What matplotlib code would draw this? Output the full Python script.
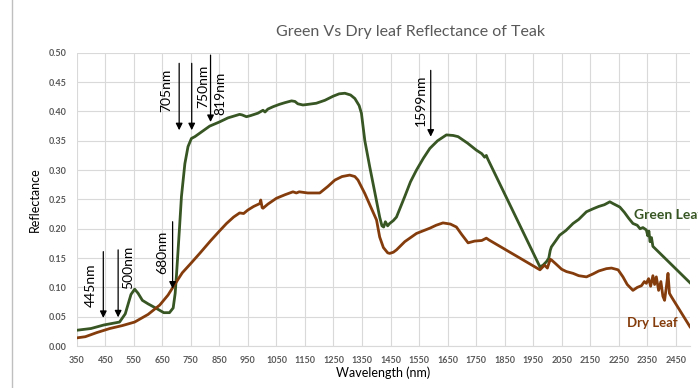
import matplotlib.pyplot as plt
from matplotlib.lines import Line2D

plt.rcParams['font.family'] = ['Lato', 'DejaVu Sans']

# Reflectance spectra (wavelength in nm, reflectance fraction)
green_nm = [350, 400, 445, 500, 520, 540, 553, 565, 580, 600, 630, 655, 675, 688,
            695, 700, 710, 717, 729, 740, 752, 764, 790, 816, 850, 880, 921, 930,
            945, 960, 985, 1003, 1010, 1020, 1038, 1060, 1080, 1103, 1115, 1125,
            1143, 1160, 1190, 1220, 1249, 1270, 1290, 1310, 1325, 1340, 1348, 1360,
            1377, 1395, 1412, 1420, 1426, 1432, 1440, 1447, 1460, 1471, 1500, 1520,
            1541, 1565, 1588, 1615, 1646, 1670, 1687, 1720, 1751, 1770, 1780, 1786,
            1790, 1974, 1985, 1997, 2005, 2010, 2014, 2030, 2043, 2065, 2090, 2110,
            2137, 2160, 2180, 2200, 2219, 2230, 2254, 2270, 2285, 2300, 2315, 2325,
            2335, 2347, 2352, 2356, 2360, 2365, 2370, 2500]
green_r = [0.027, 0.030, 0.036, 0.041, 0.055, 0.088, 0.097, 0.090, 0.078, 0.072,
           0.064, 0.057, 0.057, 0.065, 0.090, 0.124, 0.200, 0.255, 0.311, 0.340,
           0.354, 0.357, 0.366, 0.375, 0.382, 0.389, 0.395, 0.394, 0.391, 0.393,
           0.397, 0.402, 0.399, 0.404, 0.408, 0.412, 0.415, 0.418, 0.417, 0.413,
           0.411, 0.412, 0.414, 0.419, 0.426, 0.430, 0.431, 0.428, 0.422, 0.410,
           0.397, 0.350, 0.306, 0.262, 0.220, 0.205, 0.203, 0.212, 0.205, 0.209,
           0.214, 0.220, 0.255, 0.280, 0.300, 0.320, 0.337, 0.350, 0.360, 0.359,
           0.357, 0.346, 0.334, 0.328, 0.322, 0.325, 0.320, 0.135, 0.138, 0.144,
           0.150, 0.163, 0.169, 0.180, 0.189, 0.197, 0.209, 0.216, 0.229, 0.234,
           0.238, 0.241, 0.246, 0.243, 0.237, 0.228, 0.218, 0.209, 0.206, 0.200,
           0.202, 0.198, 0.188, 0.196, 0.178, 0.185, 0.170, 0.108]

dry_nm = [350, 380, 420, 466, 510, 553, 600, 641, 670, 688, 720, 750, 781, 820,
          850, 875, 900, 921, 935, 950, 970, 992, 995, 1000, 1003, 1020, 1050, 1080,
          1108, 1120, 1130, 1160, 1202, 1230, 1255, 1280, 1307, 1325, 1336, 1360,
          1380, 1401, 1412, 1425, 1440, 1447, 1460, 1471, 1500, 1541, 1588, 1610,
          1634, 1660, 1681, 1700, 1722, 1745, 1770, 1786, 1795, 1974, 1990, 2000,
          2010, 2014, 2030, 2050, 2067, 2090, 2110, 2137, 2160, 2180, 2207, 2225,
          2248, 2265, 2280, 2300, 2315, 2330, 2340, 2347, 2355, 2362, 2370, 2376,
          2382, 2390, 2398, 2405, 2411, 2417, 2423, 2428, 2435, 2500]
dry_r = [0.014, 0.016, 0.023, 0.030, 0.035, 0.041, 0.054, 0.070, 0.087, 0.101,
         0.125, 0.141, 0.158, 0.180, 0.196, 0.209, 0.220, 0.227, 0.226, 0.232,
         0.238, 0.243, 0.249, 0.236, 0.235, 0.242, 0.252, 0.258, 0.263, 0.261,
         0.263, 0.261, 0.261, 0.272, 0.283, 0.289, 0.2915, 0.289, 0.283, 0.260,
         0.238, 0.215, 0.186, 0.168, 0.159, 0.158, 0.160, 0.164, 0.178, 0.192,
         0.201, 0.206, 0.210, 0.208, 0.203, 0.190, 0.176, 0.179, 0.180, 0.184,
         0.181, 0.130, 0.138, 0.133, 0.148, 0.147, 0.140, 0.131, 0.127, 0.124,
         0.120, 0.118, 0.123, 0.128, 0.132, 0.133, 0.130, 0.118, 0.105, 0.095,
         0.100, 0.103, 0.110, 0.107, 0.115, 0.102, 0.120, 0.105, 0.118, 0.095,
         0.110, 0.085, 0.078, 0.100, 0.124, 0.090, 0.084, 0.033]

# Arrow annotations: label, arrow x, arrow top, arrow tip, text x, text y
marks = ["445nm", "500nm", "680nm", "705nm", "750nm", "819nm", "1599nm"]
arrow_x = [443, 495, 686, 709, 753, 819, 1591]
arrow_top = [0.161, 0.164, 0.212, 0.482, 0.482, 0.496, 0.470]
arrow_tip = [0.048, 0.049, 0.098, 0.368, 0.368, 0.382, 0.357]
text_x = [398, 530, 649, 664, 793, 855, 1558]
text_y = [0.104, 0.135, 0.159, 0.436, 0.442, 0.431, 0.419]

green_col = "#375623"
dry_col = "#843c0c"
grey = "#595959"

fig = plt.figure(figsize=(6.98, 3.88), dpi=100)
ax = fig.add_axes([0.110, 0.108, 0.8785, 0.756])

ax.plot(green_nm, green_r, color=green_col, linewidth=2.0, solid_joinstyle="round")
ax.plot(dry_nm, dry_r, color=dry_col, linewidth=2.0, solid_joinstyle="round")

for lab, ax_x, top, tip, tx, ty in zip(marks, arrow_x, arrow_top, arrow_tip, text_x, text_y):
    ax.annotate("", xy=(ax_x, tip), xytext=(ax_x, top),
                arrowprops=dict(arrowstyle="-|>", color="black", lw=0.9,
                                mutation_scale=10, shrinkA=0, shrinkB=0))
    ax.text(tx, ty, lab, rotation=90, ha="center", va="center", fontsize=10)

ax.text(2303, 0.223, "Green Leaf", color=green_col, fontsize=10,
        fontweight="bold", ha="left", va="center", clip_on=False)
ax.text(2278, 0.039, "Dry Leaf", color=dry_col, fontsize=9.5,
        fontweight="bold", ha="left", va="center")

ax.set_xlim(350, 2500)
ax.set_ylim(0, 0.5)
ax.set_xticks(range(350, 2451, 100))
ax.set_yticks([i * 0.05 for i in range(11)])
ax.set_yticklabels([f"{i * 0.05:.2f}" for i in range(11)])
ax.tick_params(length=0, labelsize=6.5, labelcolor=grey, pad=7)
for t in ax.get_xticklabels() + ax.get_yticklabels():
    t.set_fontweight("bold")

ax.grid(True, color="#d9d9d9", linewidth=0.8)
ax.set_axisbelow(True)
for side in ["top", "right", "left"]:
    ax.spines[side].set_visible(False)
ax.spines["bottom"].set_color("#d9d9d9")

ax.set_xlabel("Wavelength (nm)", fontsize=9, labelpad=1)
ax.set_ylabel("Reflectance", fontsize=9, labelpad=6)
fig.text(0.588, 0.918, "Green Vs Dry leaf Reflectance of Teak", ha="center",
         va="center", fontsize=11.5, color=grey)

# chart area border on the left edge
fig.add_artist(Line2D([0.017, 0.017], [0, 1], color="#bfbfbf", linewidth=1.0))

plt.savefig("out.png", dpi=100)
